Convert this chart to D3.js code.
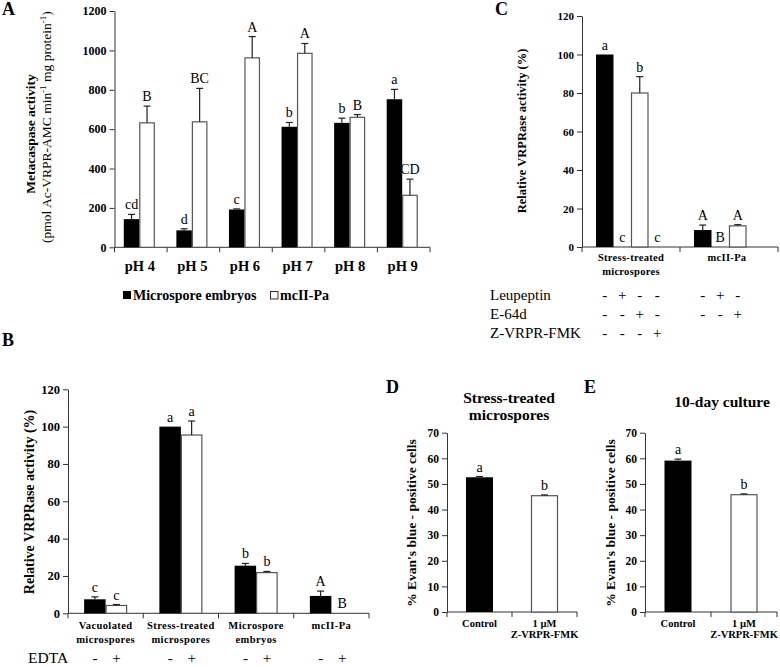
<!DOCTYPE html>
<html><head><meta charset="utf-8">
<script src="https://cdn.jsdelivr.net/npm/d3@7"></script>
<style>
body{margin:0;background:#fff;}
svg text{font-family:"Liberation Serif","Times New Roman",serif;fill:#000;}
</style></head><body>
<svg id="chart" width="780" height="667"></svg>
<script>
// ---------- Panel A ----------
const phCategories = ["pH 4","pH 5","pH 6","pH 7","pH 8","pH 9"];
const embryoActivity = [143, 86, 192, 612, 632, 752];
const embryoError = [24, 8, 3, 22, 24, 50];
const mcIIActivity = [632, 637, 962, 985, 660, 264];
const mcIIError = [85, 170, 108, 50, 14, 82];
const embryoLetters = ["cd","d","c","b","b","a"];
const mcIILetters = ["B","BC","A","A","B","CD"];
const aTicks = [0,200,400,600,800,1000,1200];
const aLegend = ["Microspore embryos","mcII-Pa"];

// ---------- Panel B ----------
const bCategories = [["Vacuolated","microspores"],["Stress-treated","microspores"],["Microspore","embryos"],["mcII-Pa"]];
const edtaMinus = [7.5, 100, 25.5, 9.3];
const edtaMinusErr = [1.3, 0, 1.2, 2.6];
const edtaPlus = [4.2, 95.5, 21.8, 0];
const edtaPlusErr = [0.5, 7.5, 0.6, 0];
const edtaMinusLetters = ["c","a","b","A"];
const edtaPlusLetters = ["c","a","b","B"];
const bTicks = [0,20,40,60,80,100,120];
const edtaSigns = ["-","+"];

// ---------- Panel C ----------
const cCategories = [["Stress-treated","microspores"],["mcII-Pa"]];
const cStress = [100, 0, 80, 0];
const cStressErr = [0, 0, 8.5, 0];
const cStressLetters = ["a","c","b","c"];
const cMcII = [8.8, 0, 11, null];
const cMcIIErr = [2.6, 0, 0.6, 0];
const cMcIILetters = ["A","B","A",""];
const cTicks = [0,20,40,60,80,100,120];
const cInhibitorRows = ["Leupeptin","E-64d","Z-VRPR-FMK"];
const cStressSigns = [["-","+","-","-"],["-","-","+","-"],["-","-","-","+"]];
const cMcIISigns = [["-","+","-"],["-","-","+"],[]];

// ---------- Panels D / E ----------
const deCategories = [["Control"],["1 µM","Z-VRPR-FMK"]];
const dValues = [52.6, 45.4];
const dErrors = [0.3, 0.3];
const dLetters = ["a","b"];
const eValues = [59.1, 45.8];
const eErrors = [0.6, 0.3];
const eLetters = ["a","b"];
const deTicks = [0,10,20,30,40,50,60,70];

const svg = d3.select("#chart");
const AXIS = "#333", OUTLINE = "#555";
const FONT = '"Liberation Serif","Times New Roman",serif';

function txt(g, x, y, s, size, weight, anchor, extra) {
  const t = g.append("text").attr("x", x).attr("y", y).text(s)
    .style("font-family", FONT).style("fill", "#000")
    .style("font-size", size + "px").style("font-weight", weight || "normal")
    .attr("text-anchor", anchor || "middle");
  if (extra) extra(t);
  return t;
}

// generic grouped bar panel
function panel(cfg) {
  const g = svg.append("g");
  const y = d3.scaleLinear().domain([0, cfg.max]).range([cfg.bottom, cfg.top]);
  const x = d3.scaleBand().domain(d3.range(cfg.nCats)).range([cfg.left, cfg.right]);
  const nS = cfg.series.length;
  const inner = d3.scaleBand().domain(d3.range(nS)).range([0, cfg.barW * nS]);
  const off = (x.bandwidth() - cfg.barW * nS) / 2 + (cfg.shift || 0);

  // y axis
  const ya = g.append("g").attr("transform", `translate(${cfg.left},0)`)
    .call(d3.axisLeft(y).tickValues(cfg.ticks).tickFormat(d3.format("d")).tickSize(5).tickSizeOuter(0).tickPadding(3))
    .attr("color", AXIS).attr("font-family", null);
  ya.selectAll("text").style("font-family", FONT).style("font-size", cfg.tickFont + "px")
    .style("font-weight", "bold").style("fill", "#000");

  // x axis with ticks at band boundaries
  const bounds = d3.range(cfg.nCats + 1).map(i => cfg.left + i * x.step());
  g.append("line").attr("x1", cfg.left).attr("x2", cfg.right)
    .attr("y1", y(0)).attr("y2", y(0)).attr("stroke", AXIS);
  g.selectAll(".xt").data(bounds).join("line")
    .attr("x1", d => d).attr("x2", d => d).attr("y1", y(0)).attr("y2", y(0) + 5).attr("stroke", AXIS);

  const pos = (c, s) => x(c) + off + inner(s);
  cfg.series.forEach((ser, s) => {
    ser.values.forEach((v, c) => {
      if (v === null || v === undefined) return;
      const bx = pos(c, s);
      const fill = ser.fills ? ser.fills[c] : ser.fill;
      if (v > 0) {
        g.append("rect").attr("x", bx + (fill === "#000" ? 0 : 0.5)).attr("y", y(v))
          .attr("width", cfg.barW - (fill === "#000" ? 0 : 1)).attr("height", y(0) - y(v))
          .attr("fill", fill).attr("stroke", fill === "#000" ? "none" : OUTLINE).attr("stroke-width", 1.2);
      }
      const e = ser.errors[c] || 0;
      const cx = bx + cfg.barW / 2;
      if (e > 0) {
        g.append("line").attr("x1", cx).attr("x2", cx).attr("y1", y(v)).attr("y2", y(v + e)).attr("stroke", "#222").attr("stroke-width", 1.2);
        g.append("line").attr("x1", cx - 3.5).attr("x2", cx + 3.5).attr("y1", y(v + e)).attr("y2", y(v + e)).attr("stroke", "#222").attr("stroke-width", 1.2);
      }
      const L = ser.letters[c];
      if (L) txt(g, cx, y(v + e) - 5, L, cfg.letterFont, "normal", "middle");
    });
  });
  return { g, x, y, pos, barW: cfg.barW, bandCenter: c => x(c) + x.bandwidth() / 2 };
}

// ================= Panel A =================
txt(svg, 2, 15, "A", 18, "bold", "start");
const pA = panel({
  left: 114.5, right: 430, top: 11, bottom: 247.3, max: 1200, ticks: aTicks, tickFont: 12,
  nCats: phCategories.length, barW: 15.5, letterFont: 14, shift: -1.5,
  series: [
    { values: embryoActivity, errors: embryoError, letters: embryoLetters, fill: "#000" },
    { values: mcIIActivity, errors: mcIIError, letters: mcIILetters, fill: "#fff" }
  ]
});
phCategories.forEach((c, i) => txt(pA.g, pA.bandCenter(i) - 1, 271, c, 14.5, "bold", "middle"));
txt(svg, 0, 0, "Metacaspase activity", 13.5, "bold", "middle", t => t.attr("transform", "translate(34.5,134) rotate(-90)"));
{
  const t = svg.append("text").attr("text-anchor", "middle").attr("transform", "translate(51,127) rotate(-90)")
    .style("font-family", FONT).style("font-size", "13.5px");
  t.append("tspan").text("(pmol Ac-VRPR-AMC min");
  t.append("tspan").text("-1").attr("dy", -5).style("font-size", "9px");
  t.append("tspan").text(" mg protein").attr("dy", 5);
  t.append("tspan").text("-1").attr("dy", -5).style("font-size", "9px");
  t.append("tspan").text(")").attr("dy", 5);
}
// legend
svg.append("rect").attr("x", 123).attr("y", 291).attr("width", 8).attr("height", 8).attr("fill", "#000");
txt(svg, 133, 299.5, aLegend[0], 14, "bold", "start");
svg.append("rect").attr("x", 270.5).attr("y", 291.5).attr("width", 7.5).attr("height", 7.5).attr("fill", "#fff").attr("stroke", "#333");
txt(svg, 280, 299.5, aLegend[1], 14, "bold", "start");

// ================= Panel B =================
txt(svg, 2, 346, "B", 18, "bold", "start");
const pB = panel({
  left: 68, right: 369, top: 389.3, bottom: 613.3, max: 120, ticks: bTicks, tickFont: 12.5,
  nCats: bCategories.length, barW: 21.5, letterFont: 14,
  series: [
    { values: edtaMinus, errors: edtaMinusErr, letters: edtaMinusLetters, fill: "#000" },
    { values: edtaPlus, errors: edtaPlusErr, letters: edtaPlusLetters, fill: "#fff" }
  ]
});
bCategories.forEach((lines, i) => lines.forEach((l, k) =>
  txt(pB.g, pB.bandCenter(i), 629 + k * 14, l, 10.5, "bold", "middle", t => t.style("letter-spacing", "0.4px"))));
txt(svg, 0, 0, "Relative VRPRase activity (%)", 14, "bold", "middle", t => t.attr("transform", "translate(34,502) rotate(-90)"));
txt(svg, 28, 663, "EDTA", 15.5, "normal", "start");
bCategories.forEach((c, i) => edtaSigns.forEach((s, k) =>
  txt(svg, pB.pos(i, k) + pB.barW / 2, 663, s, 15, "normal", "middle")));

// ================= Panel C =================
txt(svg, 495, 15, "C", 18, "bold", "start");
const cSeriesFill = ["#000", "#fff", "#fff", "#fff"];
const pC = panel({
  left: 582, right: 778, top: 16, bottom: 247, max: 120, ticks: cTicks, tickFont: 11,
  nCats: cCategories.length, barW: 17.5, letterFont: 14,
  series: d3.range(4).map(s => ({
    values: [cStress[s], cMcII[s]], errors: [cStressErr[s], cMcIIErr[s]],
    letters: [cStressLetters[s], cMcIILetters[s]], fill: cSeriesFill[s]
  }))
});
cCategories.forEach((lines, i) => lines.forEach((l, k) =>
  txt(pC.g, pC.bandCenter(i) + (i === 1 ? -2 : 0), 261 + k * 14, l, 10.5, "bold", "middle", t => t.style("letter-spacing", "0.3px"))));
txt(svg, 0, 0, "Relative VRPRase activity (%)", 12.5, "bold", "middle", t => t.attr("transform", "translate(526,131) rotate(-90)"));
const rowY = [300, 319, 338];
cInhibitorRows.forEach((r, k) => {
  txt(svg, 490, rowY[k], r, 15, "normal", "start");
  cStressSigns[k].forEach((s, j) => txt(svg, pC.pos(0, j) + pC.barW / 2, rowY[k], s, 15, "normal", "middle"));
  cMcIISigns[k].forEach((s, j) => txt(svg, pC.pos(1, j) + pC.barW / 2, rowY[k], s, 15, "normal", "middle"));
});

// ================= Panel D =================
txt(svg, 386, 393, "D", 18, "bold", "start");
txt(svg, 509, 403, "Stress-treated", 15.5, "bold", "middle");
txt(svg, 509, 420, "microspores", 15.5, "bold", "middle");
const pD = panel({
  left: 447, right: 577, top: 432.7, bottom: 612, max: 70, ticks: deTicks, tickFont: 11.5,
  nCats: 2, barW: 27, letterFont: 14,
  series: [{ values: dValues, errors: dErrors, letters: dLetters, fills: ["#000", "#fff"] }]
});
deCategories.forEach((lines, i) => lines.forEach((l, k) =>
  txt(pD.g, pD.bandCenter(i), 627 + k * 11, l, 10.5, "bold", "middle")));
txt(svg, 0, 0, "% Evan's blue - positive cells", 13.5, "bold", "middle", t => t.attr("transform", "translate(416,523) rotate(-90)"));

// ================= Panel E =================
txt(svg, 584, 393, "E", 18, "bold", "start");
txt(svg, 722, 407, "10-day culture", 15.5, "bold", "middle");
const pE = panel({
  left: 645, right: 777, top: 432.7, bottom: 612, max: 70, ticks: deTicks, tickFont: 11.5,
  nCats: 2, barW: 27, letterFont: 14,
  series: [{ values: eValues, errors: eErrors, letters: eLetters, fills: ["#000", "#fff"] }]
});
deCategories.forEach((lines, i) => lines.forEach((l, k) =>
  txt(pE.g, pE.bandCenter(i), 627 + k * 11, l, 10.5, "bold", "middle")));
txt(svg, 0, 0, "% Evan's blue - positive cells", 13.5, "bold", "middle", t => t.attr("transform", "translate(614.5,523) rotate(-90)"));
</script>
</body></html>
